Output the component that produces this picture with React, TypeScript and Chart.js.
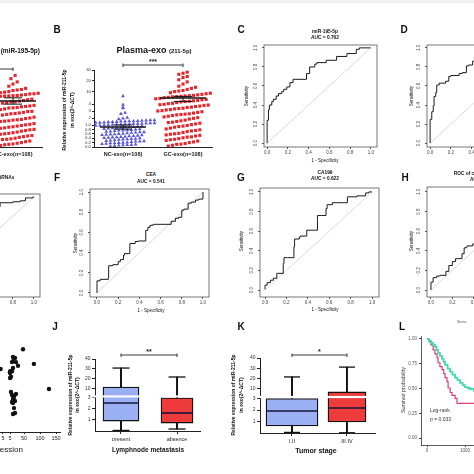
import React, { useEffect, useRef } from 'react';
import { Chart, registerables } from 'chart.js';
Chart.register(...registerables);

const FONT = '"Liberation Sans", Arial, sans-serif';

// ---------------- DATA ----------------
const EXO_CATS = ['NC-exo(n=108)', 'GC-exo(n=108)'];
const EXO_TICKS = [0, 0.2, 0.4, 0.6, 0.8, 1, 2, 3, 4, 10, 20, 30];
const EXO_TICK_LABELS = ['0.0', '0.2', '0.4', '0.6', '0.8', '1.0', '2', '3', '4', '10', '20', '30'];

// panel A (miR-195-5p), GC-exo group (the only visible one)
const A_GC = [25, 22, 19, 17, 15, 13, 12, 11, 10, 9, 8.5, 8, 7.2, 6.8, 6.4, 6, 5.6, 5.3,
  4.92, 4.82, 4.7, 4.62, 4.5, 4.42, 4.3, 4.2, 4.12, 4.0, 3.92, 3.8, 3.72, 3.6, 3.5, 3.42, 3.3, 3.2, 3.12, 3.0,
  2.92, 2.8, 2.72, 2.6, 2.5, 2.42, 2.3, 2.2, 2.12, 2.0, 1.92, 1.8, 1.7, 1.6, 1.5, 1.4, 1.3, 1.2, 1.1, 1.02,
  3.65, 2.65, 1.75, 4.3, 3.45, 2.95, 1.55,
  0.98, 0.95, 0.92, 0.9, 0.87, 0.84, 0.8, 0.78, 0.75, 0.72, 0.68, 0.65, 0.62, 0.6, 0.56, 0.52, 0.5, 0.47,
  0.44, 0.4, 0.37, 0.34, 0.3, 0.27, 0.24, 0.2, 0.17, 0.14, 0.1, 0.07, 0.04, 0.85, 0.55, 0.35,
  0.82, 0.58, 0.28, 0.12, 6.2, 9.5, 7.8, 11.5, 5.9];
const A_GC_MEAN = 4.43;
const A_GC_SEM = 0.45;

// panel B (miR-211-5p)
const B_NC = [0.04, 0.07, 0.09, 0.12, 0.14, 0.17, 0.19, 0.21, 0.23, 0.26, 0.28, 0.31, 0.33, 0.35, 0.38, 0.4,
  0.42, 0.44, 0.47, 0.49, 0.52, 0.54, 0.56, 0.58, 0.61, 0.63, 0.66, 0.68, 0.7, 0.73, 0.75, 0.77, 0.8, 0.82,
  0.84, 0.87, 0.89, 0.91, 0.94, 0.96, 0.98,
  0.05, 0.1, 0.15, 0.2, 0.25, 0.3, 0.36, 0.41, 0.46, 0.5, 0.55, 0.6, 0.65, 0.71, 0.76, 0.81, 0.86, 0.9, 0.95, 0.99,
  0.08, 0.18, 0.27, 0.37, 0.45, 0.57, 0.67, 0.78, 0.88, 0.97,
  1.02, 1.06, 1.1, 1.14, 1.18, 1.22, 1.26, 1.3, 1.34, 1.38, 1.42, 1.46, 1.5, 1.54, 1.58, 1.62, 1.66, 1.7,
  1.08, 1.2, 1.32, 1.44, 1.56, 1.68, 1.04, 1.28, 1.52, 1.12,
  2.05, 2.6, 2.75, 3.4, 3.5, 3.9, 5.9, 1.85, 1.95];
const B_GC = [28, 27, 26, 24, 23, 21, 19, 17, 15, 14, 13, 12, 11, 10.5, 10, 9, 8.5, 8, 7.5, 7, 6.5, 6.2, 6, 5.7, 5.4, 5.2,
  1.05, 1.15, 1.25, 1.35, 1.5, 1.6, 1.7, 1.85, 1.95, 2.05, 2.15, 2.25, 2.35, 2.45, 2.55, 2.6, 2.7, 2.8, 2.9, 3.0,
  3.05, 3.15, 3.2, 3.3, 3.4, 3.5, 3.55, 3.65, 3.7, 3.8, 3.9, 3.95, 4.05, 4.1, 4.2, 4.3, 4.35, 4.45, 4.5, 4.6,
  4.65, 4.75, 4.8, 4.9, 4.95, 2.5, 3.35, 3.85, 4.4, 1.4,
  0.98, 0.95, 0.9, 0.86, 0.82, 0.78, 0.75, 0.7, 0.66, 0.62, 0.58, 0.55, 0.5, 0.46, 0.42, 0.38, 0.35, 0.3, 0.27,
  0.23, 0.2, 0.16, 0.12, 0.08, 0.04, 0.93, 0.73, 0.53, 0.33, 0.13, 0.6, 0.45];
const B_MEANS = [0.91, 4.86];
const B_SEMS = [0.1, 0.5];

// ROC curves (1 - specificity, sensitivity)
const ROC_TICKS = [0, 0.2, 0.4, 0.6, 0.8, 1.0];
const ROC_TICK_LABELS = ['0.0', '0.2', '0.4', '0.6', '0.8', '1.0'];
const C_FPR = [0, 0, 0.013, 0.022, 0.045, 0.06, 0.087, 0.11, 0.14, 0.16, 0.19, 0.22, 0.25, 0.27, 0.38, 0.41, 0.46, 0.48, 0.57, 0.67, 0.77, 0.86, 0.89, 0.99, 1];
const C_TPR = [0, 0.22, 0.24, 0.35, 0.40, 0.435, 0.46, 0.495, 0.52, 0.54, 0.565, 0.59, 0.635, 0.67, 0.67, 0.73, 0.80, 0.83, 0.845, 0.87, 0.91, 0.94, 0.985, 1.0, 1.0];
const D_FPR = [0, 0, 0.016, 0.03, 0.038, 0.054, 0.064, 0.07, 0.087, 0.15, 0.18, 0.2, 0.23, 0.28, 0.31, 0.35, 0.37, 0.41, 0.5, 0.6, 0.75, 0.9, 1];
const D_TPR = [0, 0.16, 0.25, 0.33, 0.39, 0.49, 0.53, 0.61, 0.61, 0.63, 0.65, 0.70, 0.71, 0.71, 0.73, 0.74, 0.81, 0.82, 0.86, 0.9, 0.95, 0.98, 1];
const E_FPR = [0, 0, 0.04, 0.1, 0.2, 0.35, 0.5, 0.68, 0.8, 0.87, 0.92, 0.96, 0.99, 1];
const E_TPR = [0, 0.3, 0.5, 0.62, 0.72, 0.79, 0.84, 0.896, 0.94, 0.95, 0.96, 0.99, 0.99, 1];
const F_FPR = [0, 0, 0.03, 0.107, 0.11, 0.15, 0.2, 0.22, 0.25, 0.26, 0.31, 0.36, 0.39, 0.46, 0.48, 0.5, 0.53, 0.56, 0.7, 0.74, 0.77, 0.8, 0.82, 0.86, 0.89, 0.93, 0.96, 1, 1];
const F_TPR = [0, 0.096, 0.12, 0.135, 0.16, 0.27, 0.28, 0.31, 0.33, 0.375, 0.39, 0.49, 0.51, 0.515, 0.62, 0.65, 0.67, 0.68, 0.68, 0.71, 0.74, 0.75, 0.82, 0.83, 0.89, 0.9, 0.92, 0.93, 1.0];
const G_FPR = [0, 0.02, 0.05, 0.078, 0.11, 0.115, 0.17, 0.177, 0.21, 0.27, 0.276, 0.32, 0.33, 0.39, 0.45, 0.49, 0.49, 0.53, 0.57, 0.58, 0.63, 0.67, 0.77, 0.77, 0.86, 0.94, 0.97, 1];
const G_TPR = [0.007, 0.05, 0.075, 0.1, 0.12, 0.17, 0.17, 0.27, 0.33, 0.33, 0.44, 0.52, 0.54, 0.55, 0.61, 0.61, 0.72, 0.76, 0.76, 0.83, 0.87, 0.89, 0.89, 0.94, 0.95, 0.96, 0.99, 1];
const H_FPR = [0, 0, 0.02, 0.054, 0.087, 0.14, 0.167, 0.2, 0.23, 0.25, 0.29, 0.31, 0.33, 0.34, 0.39, 0.41, 0.5, 0.65, 0.8, 1];
const H_TPR = [0, 0.075, 0.08, 0.126, 0.143, 0.15, 0.19, 0.25, 0.29, 0.32, 0.32, 0.37, 0.43, 0.44, 0.45, 0.47, 0.55, 0.7, 0.85, 1];

// panel I (correlation, partially visible)
const I_X = [46.8, 14.6, 21, 14.6, 24.3, 11.4, 30.7, 81, 14.6, 11.4, 5.0, 5.2, 5.6, 5.2, 8.2, 4.8, 128, 8.2, 24.3, 11.4, 17.9, 14.6, 21, 14.6, 11.4, 17.9, 21, 14.6];
const I_Y = [90, 81.5, 80.4, 77, 76, 76, 72, 74, 69.6, 66, 65, 64, 66, 58.7, 60, 68.5, 46.7, 43.5, 41.3, 40.2, 38, 35.9, 33.7, 31.5, 32.6, 26, 20.7, 19.6];
const I_TICKS = [5, 5, 50, 100, 150];

// box plots J, K
const BOX_TICKS = [1, 2, 3, 10, 20, 30, 40];
const J_CATS = ['present', 'absence'];
const J_MIN = [0.05, 0.18];
const J_Q1 = [0.9, 0.72];
const J_MED = [2.54, 1.63];
const J_Q3 = [11.2, 3.0];
const J_MAX = [30.7, 21.5];
const K_CATS = ['I,II', 'III,IV'];
const K_MIN = [0.05, 0.02];
const K_Q1 = [0.61, 0.96];
const K_MED = [1.91, 2.17];
const K_Q3 = [3.0, 6.5];
const K_MAX = [21.3, 31];

// Kaplan-Meier L
const KM_HIGH_T = [0, 50, 105, 160, 210, 250, 290, 340, 395, 435, 475, 540, 605, 670, 740, 800, 870, 940, 1000, 1070, 1130, 1235, 1300];
const KM_HIGH_S = [1, 0.98, 0.96, 0.94, 0.92, 0.89, 0.86, 0.83, 0.80, 0.77, 0.74, 0.70, 0.67, 0.64, 0.61, 0.585, 0.556, 0.535, 0.515, 0.505, 0.495, 0.475, 0.47];
const KM_LOW_T = [0, 60, 105, 160, 210, 265, 290, 340, 395, 440, 475, 525, 555, 610, 660, 740, 790, 1300];
const KM_LOW_S = [1, 0.97, 0.94, 0.89, 0.85, 0.81, 0.76, 0.72, 0.69, 0.65, 0.61, 0.57, 0.505, 0.46, 0.43, 0.40, 0.35, 0.35];
const KM_X_TICKS = [0, 1000, 2000];
const KM_Y_TICKS = [0, 0.25, 0.5, 0.75, 1];
const KM_Y_LABELS = ['0.00', '0.25', '0.50', '0.75', '1.00'];

// ---------------- helpers ----------------
const exoD = (v: number) => (v <= 1 ? v * 22 : v <= 5 ? 22 + (v - 1) * 7 : 50 + (v - 5) * 1.08);
const boxD = (v: number) => (v <= 3 ? (v / 3) * 0.46 : 0.5 + ((v - 3) / 37) * 0.5);
const ixD = (v: number) => {
  if (v < 5) return 63 - (5 - v) * 12;
  const stops = [[5, 70], [50, 84], [100, 100], [150, 116]];
  for (let i = 1; i < stops.length; i++) {
    if (v <= stops[i][0] || i === stops.length - 1) {
      const [a, pa] = stops[i - 1];
      const [b, pb] = stops[i];
      return pa + ((v - a) / (b - a)) * (pb - pa);
    }
  }
  return 0;
};

const fixTicks = (vals: number[], map: (v: number) => number = (v) => v) => (s: any) => {
  s.ticks = vals.map((v) => ({ value: map(v) }));
};
const lab = (labels: string[]) => (_v: any, i: number) => labels[i];

function swarm(values: number[], center: number, mapY: (v: number) => number, unitPx: number, binPx: number, gapPx: number) {
  const sorted = [...values].sort((a, b) => a - b);
  const rows = new Map<number, number[]>();
  sorted.forEach((v) => {
    const k = Math.floor(mapY(v) / binPx);
    if (!rows.has(k)) rows.set(k, []);
    rows.get(k)!.push(v);
  });
  const pts: { x: number; y: number }[] = [];
  rows.forEach((row) => {
    row.forEach((v, i) => {
      pts.push({ x: center + ((i - (row.length - 1) / 2) * gapPx) / unitPx, y: mapY(v) });
    });
  });
  return pts;
}

const framePlugin = {
  id: 'frame',
  afterDatasetsDraw(chart: any) {
    const { ctx, chartArea: a } = chart;
    ctx.save();
    ctx.strokeStyle = '#555';
    ctx.lineWidth = 0.8;
    ctx.strokeRect(a.left, a.top, a.right - a.left, a.bottom - a.top);
    ctx.restore();
  },
};

const bracketPlugin = (x1: number, x2: number, off: number, text: string) => ({
  id: 'bracket',
  afterDraw(chart: any) {
    const { ctx, chartArea, scales } = chart;
    const y = chartArea.top - off;
    const p1 = scales.x.getPixelForValue(x1);
    const p2 = scales.x.getPixelForValue(x2);
    ctx.save();
    ctx.strokeStyle = '#222';
    ctx.lineWidth = 0.9;
    ctx.beginPath();
    ctx.moveTo(p1, y); ctx.lineTo(p2, y);
    ctx.moveTo(p1, y - 1.5); ctx.lineTo(p1, y + 2);
    ctx.moveTo(p2, y - 1.5); ctx.lineTo(p2, y + 2);
    ctx.stroke();
    ctx.fillStyle = '#222';
    ctx.font = `bold 7px ${FONT}`;
    ctx.textAlign = 'center';
    ctx.textBaseline = 'bottom';
    ctx.fillText(text, (p1 + p2) / 2, y + 0.5);
    ctx.restore();
  },
});

const breakPlugin = {
  id: 'break',
  afterDatasetsDraw(chart: any) {
    const { ctx, chartArea: a, scales } = chart;
    const y1 = scales.y.getPixelForValue(0.46);
    const y2 = scales.y.getPixelForValue(0.5);
    ctx.save();
    ctx.fillStyle = '#fff';
    ctx.fillRect(a.left - 3, y2 + 0.4, a.right - a.left + 3, y1 - y2 - 0.8);
    ctx.restore();
  },
};

type Geo = { area: [number, number, number, number]; yW: number; xH: number; pt: number; pr: number; pb: number };

function ChartPanel({ geo, make }: { geo: Geo; make: () => any }) {
  const ref = useRef<HTMLCanvasElement>(null);
  const [x0, y0, x1, y1] = geo.area;
  const left = x0 - geo.yW;
  const top = y0 - geo.pt;
  const width = x1 - x0 + geo.yW + geo.pr;
  const height = y1 - y0 + geo.pt + geo.xH + geo.pb;
  useEffect(() => {
    const cfg = make();
    cfg.options = cfg.options || {};
    cfg.options.animation = false;
    cfg.options.responsive = false;
    cfg.options.maintainAspectRatio = false;
    cfg.options.devicePixelRatio = 1;
    cfg.options.layout = { autoPadding: false, padding: { left: 0, top: geo.pt, right: geo.pr, bottom: geo.pb } };
    cfg.options.plugins = { legend: { display: false }, tooltip: { enabled: false }, title: { display: false } };
    cfg.options.scales.x.afterFit = (s: any) => {
      s.height = geo.xH;
      s.paddingLeft = 0; s.paddingRight = 0; s.paddingTop = 0; s.paddingBottom = 0;
    };
    cfg.options.scales.y.afterFit = (s: any) => {
      s.width = geo.yW;
      s.paddingLeft = 0; s.paddingRight = 0; s.paddingTop = 0; s.paddingBottom = 0;
    };
    const ch = new Chart(ref.current as HTMLCanvasElement, cfg);
    return () => ch.destroy();
  }, []);
  return (
    <canvas
      ref={ref}
      width={width}
      height={height}
      style={{ position: 'absolute', left, top, width, height }}
    />
  );
}

// ---------------- chart configs ----------------
const EXO_X = [0.517, 2.483];
function exoConfig(groups: { vals: number[]; idx: number; color: string; style: string; bin: number }[], means: { idx: number; m: number; s: number }[], bracketOff: number) {
  const datasets: any[] = [];
  means.forEach((mm) => {
    datasets.push({
      data: [{ x: mm.idx, y: exoD(mm.m) }], pointStyle: 'line', pointRadius: 23,
      borderColor: '#151515', pointBorderWidth: 1.3, showLine: false,
    });
    datasets.push({
      data: [{ x: mm.idx, y: exoD(mm.m - mm.s) }, { x: mm.idx, y: exoD(mm.m + mm.s) }], pointStyle: 'line', pointRadius: 9,
      borderColor: '#151515', pointBorderWidth: 1, showLine: true, borderWidth: 1,
    });
  });
  groups.forEach((g) => {
    datasets.push({
      data: swarm(g.vals, g.idx, exoD, 60, g.bin, 4.2), pointStyle: g.style, pointRadius: 2.2,
      backgroundColor: g.color, borderColor: g.color, pointBorderWidth: 0, showLine: false,
    });
  });
  return {
    type: 'scatter',
    data: { datasets },
    options: {
      scales: {
        x: {
          type: 'linear', min: EXO_X[0], max: EXO_X[1], afterBuildTicks: fixTicks([1, 2]),
          ticks: { callback: lab(EXO_CATS), font: { size: 5.5, family: FONT, weight: 'bold' }, color: '#222', padding: 4, autoSkip: false, maxRotation: 0 },
          grid: { display: false, drawTicks: false }, border: { display: true, color: '#222', width: 1 },
        },
        y: {
          type: 'linear', min: 0, max: 77, afterBuildTicks: fixTicks(EXO_TICKS, exoD),
          ticks: { callback: lab(EXO_TICK_LABELS), font: { size: 4.3, family: FONT }, color: '#333', padding: 1, autoSkip: false },
          grid: { drawOnChartArea: false, tickLength: 2, color: '#222' }, border: { display: true, color: '#222', width: 1 },
        },
      },
    },
    plugins: [bracketPlugin(1, 2, bracketOff, '***')],
  };
}

function rocConfig(fpr: number[], tpr: number[], xr: number[], yr: number[]) {
  return {
    type: 'line',
    data: {
      datasets: [
        { data: fpr.map((f, i) => ({ x: f, y: tpr[i] })), borderColor: '#1b1b1b', borderWidth: 1, pointRadius: 0, stepped: 'after', fill: false },
        { data: [{ x: 0, y: 0 }, { x: 1, y: 1 }], borderColor: '#cfcfcf', borderWidth: 0.8, pointRadius: 0, fill: false },
      ],
    },
    options: {
      scales: {
        x: {
          type: 'linear', min: xr[0], max: xr[1], afterBuildTicks: fixTicks(ROC_TICKS),
          ticks: { callback: lab(ROC_TICK_LABELS), font: { size: 4.5, family: FONT }, color: '#444', padding: 1, autoSkip: false, maxRotation: 0, minRotation: 0 },
          grid: { drawOnChartArea: false, tickLength: 2, color: '#555' }, border: { display: false },
        },
        y: {
          type: 'linear', min: yr[0], max: yr[1], afterBuildTicks: fixTicks(ROC_TICKS),
          ticks: { callback: lab(ROC_TICK_LABELS), font: { size: 4.5, family: FONT }, color: '#444', padding: 3, autoSkip: false, minRotation: 90, maxRotation: 90, crossAlign: 'center' },
          grid: { drawOnChartArea: false, tickLength: 2, color: '#555' }, border: { display: false },
        },
      },
    },
    plugins: [framePlugin],
  };
}

function boxConfig(cats: string[], mins: number[], q1: number[], med: number[], q3: number[], max: number[], widths: number[], capR: number, xr: number[], stars: string, bracketOff: number) {
  const colors = ['#9bb0f2', '#ee3b3b'];
  const datasets: any[] = [];
  datasets.push({
    type: 'line', showLine: false, data: med.map((m, i) => ({ x: i + 1, y: boxD(m) })), pointStyle: 'line',
    pointRadius: widths.map((w) => w / 2 - 0.8), pointBorderColor: '#14173a', pointBorderWidth: 1.6,
  });
  const caps: any[] = [];
  cats.forEach((_c, i) => { caps.push({ x: i + 1, y: boxD(max[i]) }); caps.push({ x: i + 1, y: boxD(mins[i]) }); });
  datasets.push({ type: 'line', showLine: false, data: caps, pointStyle: 'line', pointRadius: capR, pointBorderColor: '#111', pointBorderWidth: 1.3 });
  cats.forEach((_c, i) => {
    datasets.push({
      type: 'bar', data: [{ x: i + 1, y: [boxD(q1[i]), boxD(q3[i])] }], backgroundColor: colors[i], borderColor: '#111',
      borderWidth: 1.3, borderSkipped: false, barThickness: widths[i], grouped: false,
    });
  });
  const wh: any[] = [];
  cats.forEach((_c, i) => { wh.push({ x: i + 1, y: [boxD(q3[i]), boxD(max[i])] }); wh.push({ x: i + 1, y: [boxD(mins[i]), boxD(q1[i])] }); });
  datasets.push({ type: 'bar', data: wh, backgroundColor: '#111', borderWidth: 0, barThickness: 1.3, grouped: false });
  return {
    type: 'bar',
    data: { datasets },
    options: {
      scales: {
        x: {
          type: 'linear', min: xr[0], max: xr[1], offset: false, afterBuildTicks: fixTicks([1, 2]),
          ticks: { callback: lab(cats), font: { size: 5.5, family: FONT }, color: '#222', padding: 2, autoSkip: false, maxRotation: 0 },
          grid: { drawOnChartArea: false, tickLength: 3, color: '#222', offset: false }, border: { display: true, color: '#222', width: 1 },
        },
        y: {
          type: 'linear', min: 0, max: 1, afterBuildTicks: fixTicks(BOX_TICKS, boxD),
          ticks: { callback: lab(BOX_TICKS.map(String)), font: { size: 5, family: FONT }, color: '#333', padding: 1.5, autoSkip: false },
          grid: { drawOnChartArea: false, tickLength: 3, color: '#222' }, border: { display: true, color: '#222', width: 1 },
        },
      },
    },
    plugins: [breakPlugin, bracketPlugin(1, 2, bracketOff, stars)],
  };
}

function scatterIConfig() {
  return {
    type: 'scatter',
    data: { datasets: [{ data: I_X.map((x, i) => ({ x: ixD(x), y: I_Y[i] })), pointRadius: 2.2, backgroundColor: '#111', borderColor: '#111', pointBorderWidth: 0 }] },
    options: {
      scales: {
        x: {
          type: 'linear', min: 0, max: 120, afterBuildTicks: fixTicks(I_TICKS.map((v, i) => (i === 0 ? 4.999 : v)), ixD),
          ticks: { callback: lab(I_TICKS.map(String)), font: { size: 5.5, family: FONT }, color: '#222', padding: 1, autoSkip: false, maxRotation: 0 },
          grid: { drawOnChartArea: false, tickLength: 2, color: '#222' }, border: { display: true, color: '#222', width: 1 },
        },
        y: { type: 'linear', min: 0, max: 100, display: false },
      },
    },
  };
}

function kmConfig() {
  return {
    type: 'line',
    data: {
      datasets: [
        { data: KM_HIGH_T.map((t, i) => ({ x: t, y: KM_HIGH_S[i] })), borderColor: '#41dcb2', borderWidth: 1.8, pointRadius: 0, stepped: true, fill: false },
        { data: KM_LOW_T.map((t, i) => ({ x: t, y: KM_LOW_S[i] })), borderColor: '#dd3f72', borderWidth: 1.2, pointRadius: 0, stepped: true, fill: false },
      ],
    },
    options: {
      scales: {
        x: {
          type: 'linear', min: -158, max: 2500, afterBuildTicks: fixTicks(KM_X_TICKS),
          ticks: { callback: lab(KM_X_TICKS.map(String)), font: { size: 4.5, family: FONT }, color: '#555', padding: 1, autoSkip: false, maxRotation: 0 },
          grid: { drawOnChartArea: false, tickLength: 2, color: '#444' }, border: { display: true, color: '#333', width: 0.8 },
        },
        y: {
          type: 'linear', min: -0.07, max: 1.03, afterBuildTicks: fixTicks(KM_Y_TICKS),
          ticks: { callback: lab(KM_Y_LABELS), font: { size: 4.5, family: FONT }, color: '#555', padding: 2, autoSkip: false },
          grid: { drawOnChartArea: false, tickLength: 2, color: '#444' }, border: { display: true, color: '#333', width: 0.8 },
        },
      },
    },
  };
}

// ---------------- text helper ----------------
function T({ x, y, size = 5, bold = false, anchor = 'middle', rot = false, color = '#111', children }: any) {
  const tx = anchor === 'middle' ? '-50%' : anchor === 'end' ? '-100%' : '0';
  const transform = rot ? 'translate(-50%,-50%) rotate(-90deg)' : `translate(${tx},-50%)`;
  return (
    <div style={{ position: 'absolute', left: x, top: y, transform, fontSize: size, fontWeight: bold ? 700 : 400, whiteSpace: 'nowrap', lineHeight: 1, color, fontFamily: FONT }}>
      {children}
    </div>
  );
}

const ROC_GEO = (area: [number, number, number, number]): Geo => ({ area, yW: 20, xH: 12, pt: 7, pr: 4, pb: 2 });

export default function App() {
  return (
    <div style={{ position: 'fixed', left: 0, top: 0, width: 474, height: 474, overflow: 'hidden', background: '#fff', fontFamily: FONT }}>
      <div style={{ position: 'absolute', left: 0, top: 0, width: 474, height: 3, background: '#efefef' }} />

      {/* A */}
      <ChartPanel geo={{ area: [-76, 70, 42, 147], yW: 14, xH: 14, pt: 16, pr: 4, pb: 2 }}
        make={() => exoConfig([{ vals: A_GC, idx: 2, color: '#e8242c', style: 'rect', bin: 6 }], [{ idx: 2, m: A_GC_MEAN, s: A_GC_SEM }], 1)} />
      <T x={40} y={50} anchor="end" bold size={9}>Plasma-exo <span style={{ fontSize: 6.5 }}>(miR-195-5p)</span></T>

      {/* B */}
      <ChartPanel geo={{ area: [94, 70, 212, 147], yW: 14, xH: 14, pt: 16, pr: 4, pb: 2 }}
        make={() => exoConfig(
          [{ vals: B_NC, idx: 1, color: '#5b56d9', style: 'triangle', bin: 3 }, { vals: B_GC, idx: 2, color: '#e8242c', style: 'rect', bin: 6 }],
          [{ idx: 1, m: B_MEANS[0], s: B_SEMS[0] }, { idx: 2, m: B_MEANS[1], s: B_SEMS[1] }], 5)} />
      <T x={57} y={30} size={10} bold>B</T>
      <T x={154} y={50} bold size={9}>Plasma-exo <span style={{ fontSize: 6 }}>(211-5p)</span></T>
      <T x={64} y={110} rot bold size={5}>Relative expression of miR-211-5p</T>
      <T x={72} y={110} rot bold size={5}>in exo(2^-ΔCT)</T>

      {/* C */}
      <ChartPanel geo={ROC_GEO([264, 45, 377, 147])} make={() => rocConfig(C_FPR, C_TPR, [-0.03, 1.06], [-0.04, 1.03])} />
      <T x={241} y={30} size={10} bold>C</T>
      <T x={325} y={32} size={4.8} bold>miR-195-5p</T>
      <T x={325} y={38} size={4.8} bold>AUC = 0.762</T>
      <T x={247} y={96} rot size={4.5}>Sensitivity</T>
      <T x={325} y={161} size={4.5}>1 - Specificity</T>

      {/* D */}
      <ChartPanel geo={ROC_GEO([427, 45, 540, 147])} make={() => rocConfig(D_FPR, D_TPR, [-0.03, 1.06], [-0.04, 1.03])} />
      <T x={404} y={30} size={10} bold>D</T>
      <T x={489} y={32} size={4.8} bold>miR-211-5p</T>
      <T x={489} y={38} size={4.8} bold>AUC = 0.815</T>
      <T x={412} y={96} rot size={4.5}>Sensitivity</T>

      {/* E */}
      <ChartPanel geo={ROC_GEO([-79, 194, 40, 297])} make={() => rocConfig(E_FPR, E_TPR, [-0.066, 1.057], [-0.042, 1.031])} />
      <T x={-18} y={178} size={4.8} bold>Combination of two miRNAs</T>

      {/* F */}
      <ChartPanel geo={ROC_GEO([90, 189, 209, 297])} make={() => rocConfig(F_FPR, F_TPR, [-0.066, 1.057], [-0.04, 1.03])} />
      <T x={57} y={178} size={10} bold>F</T>
      <T x={151} y={175} size={4.8} bold>CEA</T>
      <T x={151} y={182} size={4.8} bold>AUC = 0.541</T>
      <T x={76} y={243} rot size={4.5}>Sensitivity</T>
      <T x={151} y={311} size={4.5}>1 - Specificity</T>

      {/* G */}
      <ChartPanel geo={ROC_GEO([260, 188, 379, 297])} make={() => rocConfig(G_FPR, G_TPR, [-0.047, 1.065], [-0.071, 1.04])} />
      <T x={241} y={178} size={10} bold>G</T>
      <T x={325} y={173} size={4.8} bold>CA199</T>
      <T x={325} y={179} size={4.8} bold>AUC = 0.622</T>
      <T x={242} y={241} rot size={4.5}>Sensitivity</T>
      <T x={325} y={310} size={4.5}>1 - Specificity</T>

      {/* H */}
      <ChartPanel geo={ROC_GEO([427, 187, 546, 297])} make={() => rocConfig(H_FPR, H_TPR, [-0.037, 1.075], [-0.071, 1.05])} />
      <T x={405} y={178} size={10} bold>H</T>
      <T x={484} y={174} size={4.8} bold>ROC of combined markers</T>
      <T x={484} y={180} size={4.8} bold>AUC = 0.703</T>
      <T x={412} y={241} rot size={4.5}>Sensitivity</T>

      {/* I */}
      <ChartPanel geo={{ area: [-60, 340, 60, 432], yW: 0, xH: 9, pt: 7, pr: 4, pb: 2 }} make={scatterIConfig} />
      <T x={23} y={450} anchor="end" size={8}>Expression</T>

      {/* J */}
      <ChartPanel geo={{ area: [95, 359, 200, 431], yW: 12, xH: 10, pt: 16, pr: 4, pb: 2 }}
        make={() => boxConfig(J_CATS, J_MIN, J_Q1, J_MED, J_Q3, J_MAX, [36, 32], 8.5, [0.536, 2.41], '**', 4)} />
      <T x={55} y={327} size={10} bold>J</T>
      <T x={70} y={395} rot bold size={5}>Relative expression of miR-211-5p</T>
      <T x={77} y={395} rot bold size={5}>in exo(2^-ΔCT)</T>
      <T x={148} y={450} bold size={6.5}>Lymphnode metastasis</T>

      {/* K */}
      <ChartPanel geo={{ area: [260, 358, 375, 433], yW: 12, xH: 10, pt: 16, pr: 4, pb: 2 }}
        make={() => boxConfig(K_CATS, K_MIN, K_Q1, K_MED, K_Q3, K_MAX, [52, 38], 8, [0.418, 2.51], '*', 3)} />
      <T x={241} y={327} size={10} bold>K</T>
      <T x={233} y={395} rot bold size={5}>Relative expression of miR-211-5p</T>
      <T x={241} y={395} rot bold size={5}>in exo(2^-ΔCT)</T>
      <T x={316} y={450} bold size={7}>Tumor stage</T>

      {/* L */}
      <ChartPanel geo={{ area: [421, 336, 522, 445], yW: 14, xH: 8, pt: 7, pr: 4, pb: 2 }} make={kmConfig} />
      <T x={402} y={327} size={10} bold>L</T>
      <T x={404} y={390} rot size={5.5} color="#333">Survival probability</T>
      <T x={430} y={410} anchor="start" size={5} color="#333">Log-rank</T>
      <T x={430} y={419} anchor="start" size={5} color="#333">p = 0.033</T>
      <T x={457} y={323} anchor="start" size={3.5} color="#555">Strata</T>
    </div>
  );
}
